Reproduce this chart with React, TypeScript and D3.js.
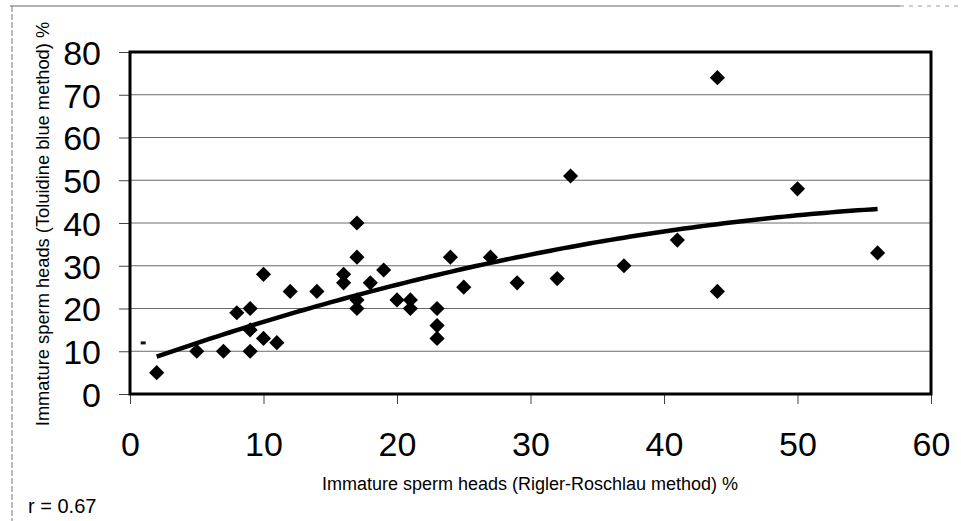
import React, { useEffect, useRef } from 'react';
import * as d3 from 'd3';

// Rigler-Roschlau method (%)
const xValues = [2, 5, 7, 8, 9, 9, 9, 10, 10, 11, 12, 14, 16, 16, 17, 17, 17, 17, 18, 19, 20, 21, 21, 23, 23, 23, 24, 25, 27, 29, 32, 33, 37, 41, 44, 44, 50, 56];
// Toluidine blue method (%)
const yValues = [5, 10, 10, 19, 20, 15, 10, 28, 13, 12, 24, 24, 28, 26, 40, 32, 22, 20, 26, 29, 22, 22, 20, 20, 16, 13, 32, 25, 32, 26, 27, 51, 30, 36, 74, 24, 48, 33];

const xTicks = [0, 10, 20, 30, 40, 50, 60];
const yTicks = [0, 10, 20, 30, 40, 50, 60, 70, 80];

const xTitle = 'Immature sperm heads (Rigler-Roschlau method) %';
const yTitle = 'Immature sperm heads (Toluidine blue method) %';
const rLabel = 'r = 0.67';

// least squares polynomial (degree 2) for the trend line
function quadFit(xs: number[], ys: number[]) {
  const s = [0, 0, 0, 0, 0];
  const t = [0, 0, 0];
  xs.forEach((x, i) => {
    for (let k = 0; k < 5; k++) s[k] += Math.pow(x, k);
    for (let k = 0; k < 3; k++) t[k] += ys[i] * Math.pow(x, k);
  });
  const m = [
    [s[0], s[1], s[2], t[0]],
    [s[1], s[2], s[3], t[1]],
    [s[2], s[3], s[4], t[2]],
  ];
  for (let c = 0; c < 3; c++) {
    for (let r = c + 1; r < 3; r++) {
      const f = m[r][c] / m[c][c];
      for (let k = c; k < 4; k++) m[r][k] -= f * m[c][k];
    }
  }
  const coef = [0, 0, 0];
  for (let r = 2; r >= 0; r--) {
    let v = m[r][3];
    for (let k = r + 1; k < 3; k++) v -= m[r][k] * coef[k];
    coef[r] = v / m[r][r];
  }
  return (x: number) => coef[0] + coef[1] * x + coef[2] * x * x;
}

const App = () => {
  const ref = useRef(null);

  useEffect(() => {
    const width = 961;
    const height = 521;
    const left = 130;
    const right = 931;
    const top = 52;
    const bottom = 394;
    const font = "'Liberation Sans', Arial, sans-serif";

    const svg = d3.select(ref.current).attr('width', width).attr('height', height);
    svg.selectAll('*').remove();

    const x = d3.scaleLinear().domain([0, 60]).range([left, right]);
    const y = d3.scaleLinear().domain([0, 80]).range([bottom, top]);

    // scan frame
    svg.append('line')
      .attr('x1', 10).attr('x2', 900).attr('y1', 6).attr('y2', 6)
      .attr('stroke', '#666').attr('stroke-width', 1);
    svg.append('line')
      .attr('x1', 900).attr('x2', 961).attr('y1', 6).attr('y2', 6)
      .attr('stroke', '#999').attr('stroke-width', 1).attr('stroke-dasharray', '4 5');
    svg.append('line')
      .attr('x1', 12).attr('x2', 12).attr('y1', 6).attr('y2', height)
      .attr('stroke', '#777').attr('stroke-width', 1).attr('stroke-dasharray', '6 2');

    // gridlines
    svg.append('g')
      .selectAll('line')
      .data(yTicks.filter(d => d > 0 && d < 80))
      .enter().append('line')
        .attr('x1', left).attr('x2', right)
        .attr('y1', d => y(d)).attr('y2', d => y(d))
        .attr('stroke', '#6a6a6a').attr('stroke-width', 1);

    // y axis
    const yAxis = svg.append('g')
      .attr('transform', `translate(${left},0)`)
      .call(d3.axisLeft(y).tickValues(yTicks).tickSize(11).tickPadding(18));
    yAxis.select('.domain').remove();
    yAxis.selectAll('line').attr('stroke', '#444');
    yAxis.selectAll('text')
      .attr('font-family', font).attr('font-size', 34).attr('fill', '#000')
      .attr('dy', '0.36em');

    // x axis
    const xAxis = svg.append('g')
      .attr('transform', `translate(0,${bottom})`)
      .call(d3.axisBottom(x).tickValues(xTicks).tickSize(10).tickPadding(0));
    xAxis.select('.domain').remove();
    xAxis.selectAll('line').attr('stroke', '#444');
    xAxis.selectAll('text')
      .attr('font-family', font).attr('font-size', 34).attr('fill', '#000')
      .attr('dy', null).attr('y', 62);

    // plot frame
    svg.append('rect')
      .attr('x', left).attr('y', top)
      .attr('width', right - left).attr('height', bottom - top)
      .attr('fill', 'none').attr('stroke', '#000').attr('stroke-width', 3);

    // trend line
    const fit = quadFit(xValues, yValues);
    const xs = d3.range(d3.min(xValues), d3.max(xValues) + 0.5, 0.5);
    const line = d3.line<number>().x(d => x(d)).y(d => y(fit(d)));
    svg.append('path')
      .attr('d', line(xs))
      .attr('fill', 'none').attr('stroke', '#000').attr('stroke-width', 4.5);

    // data points
    const diamond = d3.symbol().type(d3.symbolSquare).size(115);
    svg.append('g')
      .selectAll('path')
      .data(xValues.map((v, i) => [v, yValues[i]]))
      .enter().append('path')
        .attr('d', diamond)
        .attr('transform', d => `translate(${x(d[0])},${y(d[1])}) rotate(45)`)
        .attr('fill', '#000');

    // small stray mark near the origin
    svg.append('rect')
      .attr('x', x(0.8)).attr('y', y(12.3))
      .attr('width', 5).attr('height', 3).attr('fill', '#111');

    // titles
    svg.append('text')
      .attr('transform', `translate(49,224) rotate(-90)`)
      .attr('text-anchor', 'middle')
      .attr('font-family', font).attr('font-size', 18.3)
      .text(yTitle);

    svg.append('text')
      .attr('x', 530).attr('y', 490)
      .attr('text-anchor', 'middle')
      .attr('font-family', font).attr('font-size', 18)
      .text(xTitle);

    svg.append('text')
      .attr('x', 28).attr('y', 513)
      .attr('font-family', font).attr('font-size', 20)
      .text(rLabel);
  }, []);

  return (
    <svg
      ref={ref}
      style={{ position: 'absolute', left: 0, top: 0, background: '#fff' }}
    />
  );
};

export default App;
